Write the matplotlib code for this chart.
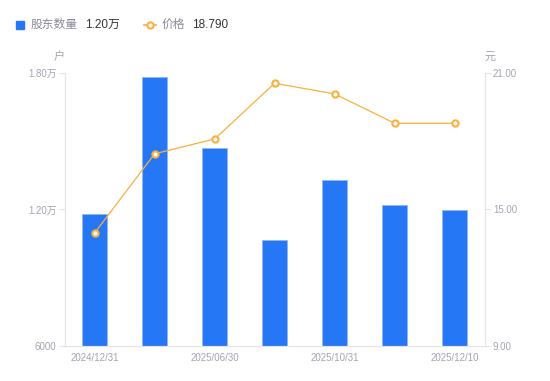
import matplotlib.pyplot as plt
import numpy as np

plt.rcParams['font.family'] = ['Liberation Sans', 'Noto Sans CJK SC', 'DejaVu Sans']

# data
dates = ['2024/12/31', '2025/03/31', '2025/06/30', '2025/09/30',
         '2025/10/31', '2025/11/30', '2025/12/10']
holders = [11790, 17810, 14690, 10650, 13280, 12190, 11980]
price = [13.97, 17.45, 18.10, 20.55, 20.08, 18.79, 18.79]

bar_color = '#2677f5'
line_color = '#f7b13c'
tick_color = '#a3a3b3'
axis_color = '#e3e3e8'

fig = plt.figure(figsize=(5.5, 3.81), dpi=100)
ax = fig.add_axes([0.1176, 0.0919, 0.7636, 0.7165])
ax2 = ax.twinx()

x = np.arange(len(dates))
ax.bar(x, holders, width=0.41, color=bar_color, edgecolor='#8fb8fa', linewidth=0.6, zorder=2)
ax.set_xlim(-0.5, len(dates) - 0.5)
ax.set_ylim(6000, 18000)
ax.set_yticks([6000, 12000, 18000])
ax.set_yticklabels(['6000', '1.20万', '1.80万'])

ax2.plot(x, price, color=line_color, linewidth=0.9, marker='o', markersize=4.5,
         markerfacecolor='white', markeredgecolor=line_color, markeredgewidth=1.5, zorder=3)
ax2.set_ylim(9, 21)
ax2.set_yticks([9, 15, 21])
ax2.set_yticklabels(['9.00', '15.00', '21.00'])

ax.set_xticks(x[::2])
ax.set_xticklabels(dates[::2])

for a in (ax, ax2):
    a.spines['top'].set_visible(False)
    a.spines['left'].set_color(axis_color)
    a.spines['right'].set_color(axis_color)
    a.spines['bottom'].set_color(axis_color)
    a.tick_params(colors=tick_color, labelsize=7, length=4, width=0.8, pad=2)
    a.tick_params(axis='y', color=axis_color)
ax.tick_params(axis='x', length=0, pad=5)
ax2.set_zorder(ax.get_zorder() + 1)
ax2.patch.set_visible(False)

# unit labels
fig.text(59 / 550, 1 - 57 / 381, '户', color=tick_color, fontsize=8, ha='center', va='center')
fig.text(490 / 550, 1 - 57 / 381, '元', color=tick_color, fontsize=8, ha='center', va='center')

# legend row at top
ly = 1 - 24.5 / 381
fig.patches.append(plt.Rectangle((16 / 550, 1 - 29 / 381), 8 / 550, 8 / 381,
                                 transform=fig.transFigure, color=bar_color))
fig.text(31 / 550, ly, '股东数量', color='#8a8a99', fontsize=8.5, va='center')
fig.text(85 / 550, ly, '1.20万', color='#333333', fontsize=8.5, va='center')
fig.add_artist(plt.Line2D([144 / 550, 156 / 550], [ly, ly], transform=fig.transFigure,
                          color=line_color, linewidth=1.2))
fig.add_artist(plt.Line2D([150 / 550], [ly], transform=fig.transFigure, color=line_color,
                          marker='o', markersize=4.5, markerfacecolor='white',
                          markeredgewidth=1.5))
fig.text(162 / 550, ly, '价格', color='#8a8a99', fontsize=8.5, va='center')
fig.text(192 / 550, ly, '18.790', color='#333333', fontsize=8.5, va='center')

fig.savefig('out.png', dpi=100)
